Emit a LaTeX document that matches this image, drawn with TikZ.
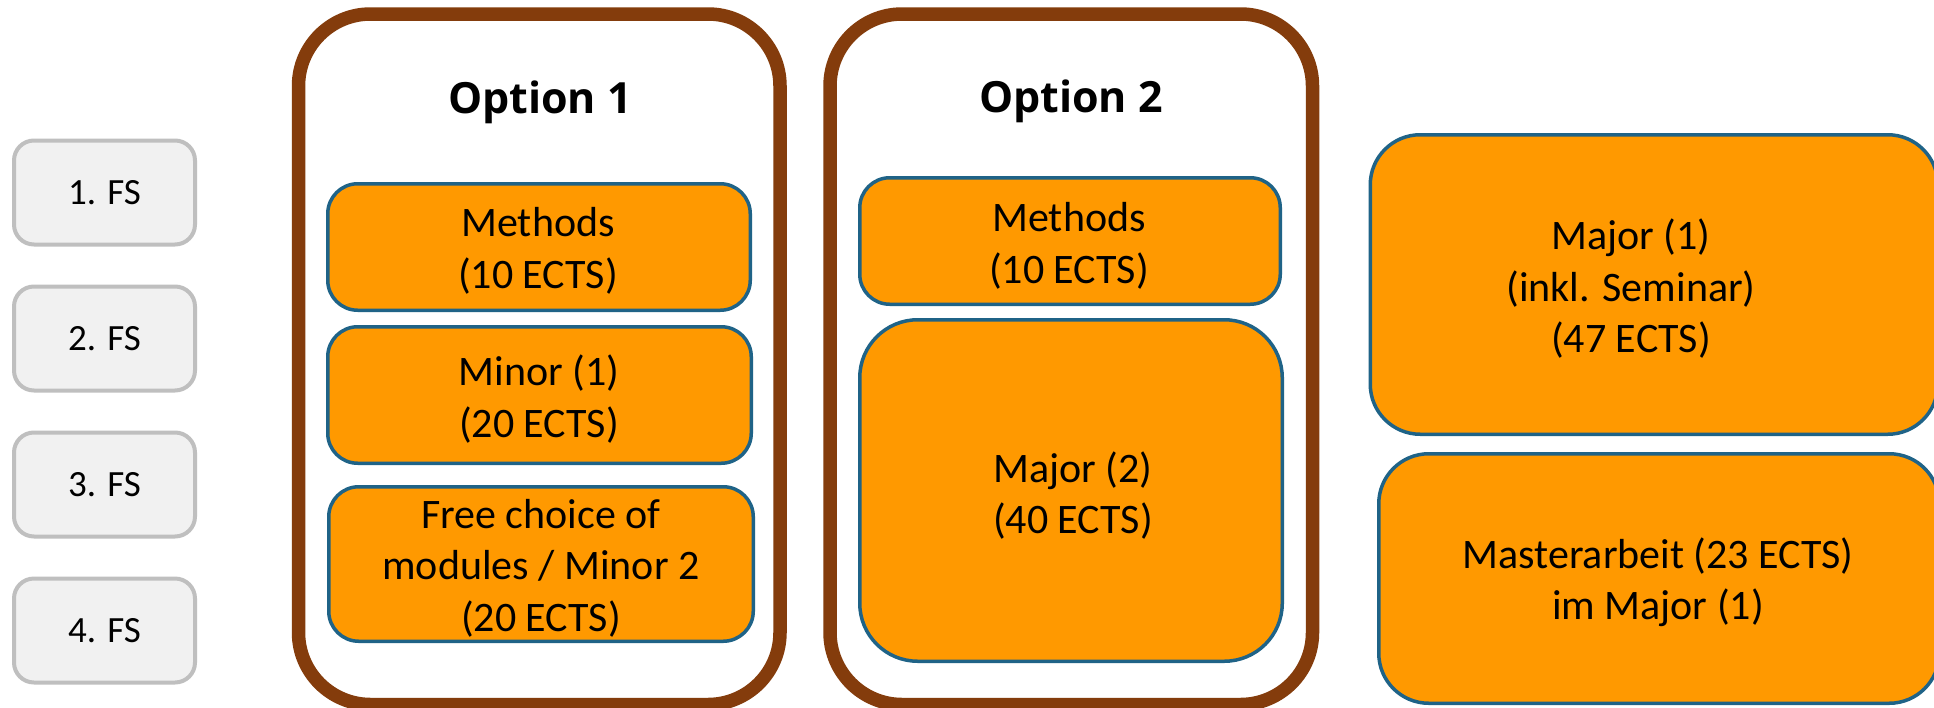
\documentclass[tikz,border=0pt]{standalone}
\usepackage{fontspec}
\setmainfont{Carlito}
\newfontfamily\optfont{Open Sans}
\definecolor{orangefill}{RGB}{255,153,0}
\definecolor{blueline}{RGB}{31,99,135}
\definecolor{brownline}{RGB}{132,60,12}
\definecolor{fsfill}{RGB}{241,241,241}
\definecolor{fsline}{RGB}{191,191,191}
\tikzset{
  fsbox/.style={draw=fsline, line width=4pt, fill=fsfill, rounded corners=20pt,
    minimum width=181pt, minimum height=104pt, inner sep=0pt,
    font=\fontsize{37}{44}\selectfont},
  optbox/.style={draw=brownline, line width=13.5pt, fill=white, rounded corners=72pt,
    minimum height=690.5pt, inner sep=0pt},
  modbox/.style={draw=blueline, line width=3.5pt, fill=orangefill, inner sep=0pt},
  modtext/.style={align=center, inner sep=0pt, font=\fontsize{42}{51.5}\selectfont},
  opttitle/.style={anchor=base, inner sep=0pt, font=\optfont\bfseries\fontsize{43}{51}\selectfont},
}
\begin{document}
\begin{tikzpicture}[x=1pt,y=-1pt]
\path[use as bounding box, clip] (0,0) rectangle (1934,707);
\fill[white] (0,0) rectangle (1934,707);

% semester boxes
\node[fsbox] (fs1) at (104.5,192.5) {1. FS};
\node[fsbox] (fs2) at (104.5,338.5) {2. FS};
\node[fsbox] (fs3) at (104.5,484.5) {3. FS};
\node[fsbox] (fs4) at (104.5,630.5) {4. FS};

% option frames
\node[optbox, minimum width=481.5pt] (opt1) at (539.25,359.25) {};
\node[optbox, minimum width=482.5pt] (opt2) at (1071.25,359.25) {};
\node[opttitle] (opt1title) at (540,113) {Option 1};
\node[opttitle] (opt2title) at (1071,112) {Option 2};

% option 1 modules
\node[modbox, rounded corners=30pt, minimum width=422.5pt, minimum height=126.5pt] (meth1) at (539,247) {};
\node[modtext] (meth1t) at (538,251) {Methods\\(10 ECTS)};
\node[modbox, rounded corners=30pt, minimum width=423.5pt, minimum height=136.5pt] (minor1) at (539.5,395) {};
\node[modtext] (minor1t) at (539,399) {Minor (1)\\(20 ECTS)};
\node[modbox, rounded corners=30pt, minimum width=424.5pt, minimum height=154.5pt] (free) at (541,564) {};
\node[modtext] (freet) at (541,568) {Free choice of\\modules / Minor 2\\(20 ECTS)};

% option 2 modules
\node[modbox, rounded corners=30pt, minimum width=420.5pt, minimum height=126.5pt] (meth2) at (1070,241) {};
\node[modtext] (meth2t) at (1069,246) {Methods\\(10 ECTS)};
\node[modbox, rounded corners=58pt, minimum width=422.5pt, minimum height=341.5pt] (major2) at (1071,490.5) {};
\node[modtext] (major2t) at (1073,495.5) {Major (2)\\(40 ECTS)};

% right column
\node[modbox, rounded corners=50pt, minimum width=567.5pt, minimum height=299.5pt] (major1) at (1654,284.5) {};
\node[modtext] (major1t) at (1631,289) {Major (1)\\(inkl. Seminar)\\(47 ECTS)};
\node[modbox, rounded corners=50pt, minimum width=560.5pt, minimum height=249.5pt] (master) at (1659,578.5) {};
\node[modtext] (mastert) at (1658,582) {Masterarbeit (23 ECTS)\\im Major (1)};
\end{tikzpicture}
\end{document}
